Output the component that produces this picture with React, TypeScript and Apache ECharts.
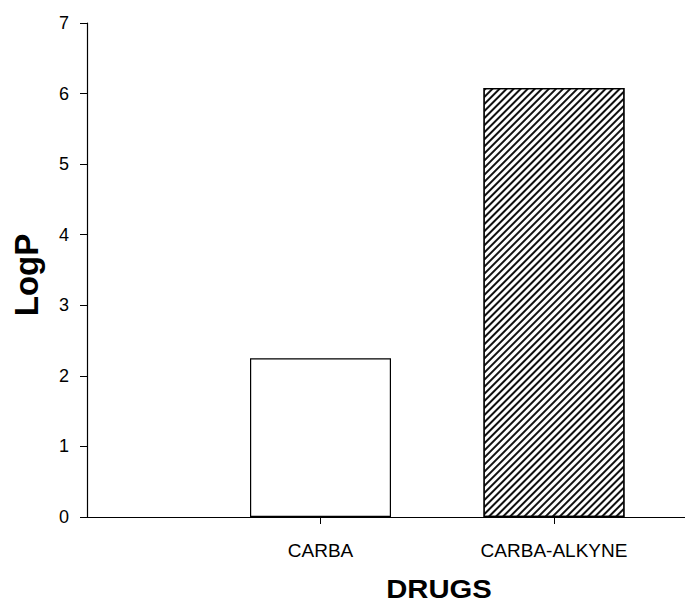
import React, { useEffect, useRef } from "react";
import * as echarts from "echarts";

const categories = ["CARBA", "CARBA-ALKYNE"];
const categoryPositions = [1, 2];
const logPValues = [2.25, 6.08];
const yTicks = [0, 1, 2, 3, 4, 5, 6, 7];

export default function App() {
  const ref = useRef<HTMLDivElement>(null);
  useEffect(() => {
    if (!ref.current) return;
    const chart = echarts.init(ref.current, null, { renderer: "svg" });
    const font = "'Liberation Sans', Arial, Helvetica, sans-serif";
    chart.setOption({
      animation: false,
      backgroundColor: "#fff",
      textStyle: { fontFamily: font },
      grid: { left: 87, right: 0, top: 23, bottom: 85, containLabel: false },
      xAxis: {
        type: "value",
        min: 0,
        max: 2.561,
        interval: 1,
        splitLine: { show: false },
        axisLine: { show: true, lineStyle: { color: "#000", width: 1.2 } },
        axisTick: {
          show: true,
          inside: false,
          length: 7,
          customValues: categoryPositions,
          lineStyle: { color: "#000", width: 1 },
        },
        axisLabel: {
          customValues: categoryPositions,
          color: "#000",
          fontSize: 19,
          fontFamily: font,
          margin: 24,
          formatter: (v: number) => {
            const i = categoryPositions.indexOf(Math.round(v));
            return i >= 0 ? categories[i] : "";
          },
        },
      },
      yAxis: {
        type: "value",
        min: yTicks[0],
        max: yTicks[yTicks.length - 1],
        interval: 1,
        splitLine: { show: false },
        axisLine: { show: true, lineStyle: { color: "#000", width: 1.2 } },
        axisTick: { show: true, inside: false, length: 7, lineStyle: { color: "#000", width: 1 } },
        axisLabel: { color: "#000", fontSize: 18, fontFamily: font, margin: 18 },
      },
      graphic: [
        {
          type: "text",
          x: 439,
          y: 589,
          scaleX: 1.17,
          style: {
            text: "DRUGS",
            fontSize: 25,
            fontWeight: "bold",
            fontFamily: font,
            fill: "#000",
            align: "center",
            verticalAlign: "middle",
          },
        },
        {
          type: "text",
          x: 26,
          y: 275,
          rotation: Math.PI / 2,
          style: {
            text: "LogP",
            fontSize: 33,
            fontWeight: "bold",
            fontFamily: font,
            fill: "#000",
            align: "center",
            verticalAlign: "middle",
          },
        },
      ],
      series: [
        {
          type: "bar",
          barWidth: 141,
          data: [
            {
              value: [categoryPositions[0], logPValues[0]],
              itemStyle: { color: "#fff", borderColor: "#000", borderWidth: 1.2 },
            },
            {
              value: [categoryPositions[1], logPValues[1]],
              itemStyle: {
                color: "#fff",
                borderColor: "#000",
                borderWidth: 1.2,
                decal: {
                  symbol: "rect",
                  color: "#111",
                  dashArrayX: [1, 0],
                  dashArrayY: [1.2, 2.8],
                  rotation: -Math.PI / 4,
                },
              },
            },
          ],
        },
      ],
    });
    return () => chart.dispose();
  }, []);
  return (
    <div
      ref={ref}
      style={{ position: "absolute", left: 0, top: 0, width: 685, height: 602 }}
    />
  );
}
